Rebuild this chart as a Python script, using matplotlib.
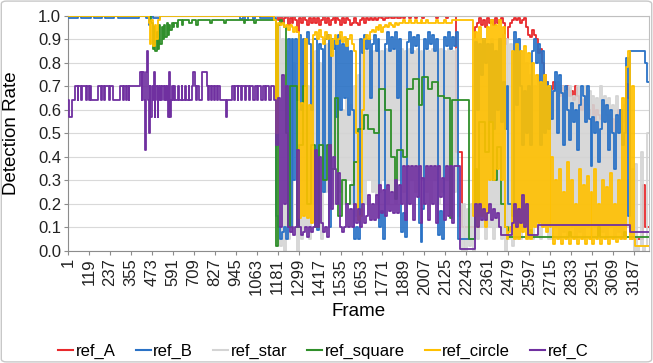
import numpy as np
import matplotlib
matplotlib.use("Agg")
import matplotlib.pyplot as plt
from matplotlib.patches import FancyBboxPatch
from matplotlib.lines import Line2D

plt.rcParams['font.family'] = ['Liberation Sans', 'DejaVu Sans']

N_FRAMES = 3271
LATE_START = 1171
LATE_STEP = 11

x_tick_labels = [1, 119, 237, 355, 473, 591, 709, 827, 945, 1063, 1181, 1299, 1417, 1535,
                 1653, 1771, 1889, 2007, 2125, 2243, 2361, 2479, 2597, 2715, 2833, 2951,
                 3069, 3187]
y_ticks = [0.0, 0.1, 0.2, 0.3, 0.4, 0.5, 0.6, 0.7, 0.8, 0.9, 1.0]

# ---------------- ref_A (red) ----------------
A_early_f = [1]
A_early_v = [1.0]
A_late = [1.0, 0.98, 1.0, 0.97, 0.99, 1.0, 0.96, 0.99, 0.97, 1.0,
          0.98, 0.93, 0.99, 0.97, 1.0, 0.98, 0.96, 0.99, 0.97, 0.99,
          0.97, 0.99, 0.96, 0.98, 1.0, 0.97, 0.99, 0.96, 0.98, 0.99,
          0.97, 0.99, 0.98, 0.96, 0.99, 0.97, 0.99, 0.98, 0.96, 0.97,
          0.99, 0.97, 0.96, 0.98, 0.99, 0.97, 0.99, 0.98, 0.99, 0.98,
          0.99, 0.98, 0.99, 1.0, 0.99, 0.98, 0.99, 0.99, 1.0, 0.99,
          0.99, 1.0, 0.99, 0.99, 1.0, 0.99, 1.0, 1.0, 0.99, 1.0,
          1.0, 0.99, 1.0, 1.0, 1.0, 0.99, 1.0, 1.0, 1.0, 1.0,
          1.0, 1.0, 0.99, 1.0, 1.0, 1.0, 1.0, 0.99, 1.0, 1.0,
          1.0, 1.0, 0.42, 0.42, 0.42, 0.1, 0.1, 0.1, 0.1, 0.1,
          0.1, 0.1, 0.95, 0.97, 0.99, 0.96, 0.98, 0.95, 0.99, 0.97,
          0.98, 0.96, 0.99, 0.97, 0.98, 0.99, 0.97, 0.88, 0.9, 0.95,
          0.97, 0.98, 0.99, 0.98, 0.99, 0.97, 0.98, 0.99, 0.95, 0.92,
          0.91, 0.94, 0.92, 0.9, 0.84, 0.86, 0.8, 0.75, 0.72, 0.7,
          0.7, 0.69, 0.72, 0.68, 0.7, 0.66, 0.7, 0.68, 0.65, 0.7,
          0.66, 0.68, 0.64, 0.7, 0.66, 0.62, 0.6, 0.64, 0.66, 0.62,
          0.6, 0.58, 0.62, 0.55, 0.6, 0.58, 0.56, 0.6, 0.62, 0.58,
          0.55, 0.58, 0.56, 0.5, 0.55, 0.6, 0.58, 0.55, 0.6, 0.71,
          0.65, 0.05, 0.05, 0.05, 0.05, 0.05, 0.05, 0.05, 0.28, 0.1, 0.1]

# ---------------- ref_B (blue) ----------------
B_early_f = [1, 60, 75, 130, 150, 190, 210, 260, 280, 400, 440, 455, 462, 480, 520,
             970, 985, 1000, 1015, 1040, 1055, 1080]
B_early_v = [0.99, 1.0, 0.99, 1.0, 0.99, 1.0, 0.99, 1.0, 0.99, 1.0, 0.99, 0.96, 1.0, 0.99, 1.0,
             0.985, 1.0, 0.98, 1.0, 0.985, 1.0, 0.99]
B_late = [0.15, 0.1, 0.05, 0.08, 0.1, 0.05, 0.9, 0.1, 0.9, 0.3,
          0.9, 0.64, 0.92, 0.6, 0.9, 0.7, 0.93, 0.88, 0.6, 0.9,
          0.9, 0.09, 0.88, 0.86, 0.25, 0.9, 0.92, 0.1, 0.9, 0.86,
          0.9, 0.57, 0.92, 0.6, 0.88, 0.65, 0.9, 0.58, 0.85, 0.6,
          0.05, 0.1, 0.05, 0.9, 0.84, 0.92, 0.86, 0.9, 0.65, 0.88,
          0.92, 0.85, 0.9, 0.1, 0.17, 0.05, 0.88, 0.93, 0.85, 0.91,
          0.86, 0.93, 0.65, 0.9, 0.08, 0.16, 0.06, 0.89, 0.93, 0.84,
          0.91, 0.87, 0.92, 0.12, 0.04, 0.18, 0.9, 0.86, 0.93, 0.88,
          0.92, 0.85, 0.9, 0.07, 0.17, 0.05, 0.91, 0.87, 0.93, 0.86,
          0.91, 0.87, 0.93, 0.05, 0.05, 0.05, 0.05, 0.05, 0.05, 0.05,
          0.05, 0.05, 0.89, 0.6, 0.88, 0.75, 0.9, 0.8, 0.88, 0.55,
          0.88, 0.52, 0.85, 0.6, 0.9, 0.55, 0.72, 0.52, 0.7, 0.2,
          0.2, 0.15, 0.93, 0.62, 0.9, 0.7, 0.45, 0.68, 0.5, 0.7,
          0.45, 0.85, 0.9, 0.8, 0.88, 0.45, 0.85, 0.5, 0.72, 0.52,
          0.7, 0.56, 0.68, 0.76, 0.5, 0.75, 0.67, 0.45, 0.7, 0.6,
          0.47, 0.63, 0.55, 0.6, 0.43, 0.62, 0.7, 0.66, 0.55, 0.7,
          0.56, 0.36, 0.57, 0.5, 0.55, 0.38, 0.52, 0.64, 0.55, 0.62,
          0.43, 0.6, 0.5, 0.35, 0.58, 0.5, 0.6, 0.45, 0.5, 0.82,
          0.15, 0.85, 0.85, 0.85, 0.85, 0.85, 0.85, 0.85, 0.85, 0.8, 0.72]

# ---------------- ref_star (grey) ----------------
S_early_f = [1]
S_early_v = [1.0]
S_late = [0.02, 0.95, 0.02, 0.9, 0.0, 0.85, 0.05, 0.9, 0.1, 0.8,
          0.7, 0.0, 0.6, 0.05, 0.85, 0.1, 0.7, 0.05, 0.8, 0.2,
          0.85, 0.2, 0.8, 0.05, 0.85, 0.25, 0.88, 0.3, 0.85, 0.2,
          0.85, 0.2, 0.65, 0.25, 0.6, 0.2, 0.65, 0.3, 0.62, 0.2,
          0.7, 0.15, 0.75, 0.25, 0.85, 0.2, 0.85, 0.3, 0.85, 0.25,
          0.85, 0.2, 0.86, 0.25, 0.85, 0.3, 0.86, 0.2, 0.85, 0.25,
          0.86, 0.2, 0.85, 0.3, 0.86, 0.25, 0.85, 0.2, 0.86, 0.3,
          0.85, 0.25, 0.86, 0.2, 0.85, 0.3, 0.86, 0.25, 0.85, 0.2,
          0.86, 0.3, 0.85, 0.2, 0.86, 0.25, 0.85, 0.3, 0.86, 0.2,
          0.85, 0.25, 0.86, 0.15, 0.2, 0.0, 0.2, 0.0, 0.18, 0.02,
          0.2, 0.0, 0.9, 0.05, 0.85, 0.1, 0.9, 0.05, 0.8, 0.1,
          0.9, 0.05, 0.85, 0.1, 0.9, 0.05, 0.92, 0.0, 0.9, 0.05,
          0.88, 0.02, 0.85, 0.05, 0.8, 0.05, 0.85, 0.1, 0.8, 0.05,
          0.75, 0.05, 0.7, 0.1, 0.75, 0.05, 0.72, 0.1, 0.7, 0.05,
          0.7, 0.05, 0.68, 0.1, 0.72, 0.05, 0.7, 0.08, 0.68, 0.05,
          0.7, 0.1, 0.66, 0.05, 0.7, 0.08, 0.65, 0.05, 0.7, 0.1,
          0.68, 0.05, 0.66, 0.1, 0.65, 0.05, 0.7, 0.08, 0.66, 0.05,
          0.65, 0.1, 0.62, 0.05, 0.66, 0.08, 0.6, 0.05, 0.62, 0.1,
          0.3, 0.05, 0.35, 0.0, 0.37, 0.0, 0.02, 0.42, 0.0, 0.02, 0.5]

# ---------------- ref_square (green) ----------------
Q_early_f = [1, 470, 478, 486, 492, 500, 506, 514, 520, 528, 534, 542, 548, 556, 562, 570,
             576, 584, 592, 600, 612, 620, 640, 650, 680, 700, 720, 730, 800, 810, 880, 890,
             990, 1000, 1050, 1060]
Q_early_v = [1.0, 0.97, 0.86, 0.95, 0.85, 0.93, 0.86, 0.96, 0.88, 0.95, 0.9, 0.96, 0.91, 0.97,
             0.92, 0.96, 0.94, 0.97, 0.95, 0.97, 0.95, 0.98, 0.96, 0.98, 0.97, 0.98, 0.96,
             0.98, 0.97, 0.98, 0.97, 0.98, 0.97, 0.98, 0.97, 0.98]
Q_late = [0.02, 0.96, 0.98, 0.97, 0.95, 0.5, 0.1, 0.7, 0.7, 0.7,
          0.7, 0.1, 0.45, 0.45, 0.7, 0.7, 0.2, 0.2, 0.45, 0.45,
          0.1, 0.1, 0.45, 0.45, 0.3, 0.3, 0.45, 0.45, 0.35, 0.35,
          0.65, 0.65, 0.15, 0.15, 0.3, 0.3, 0.2, 0.2, 0.28, 0.28,
          0.38, 0.38, 0.52, 0.52, 0.52, 0.58, 0.58, 0.52, 0.52, 0.52,
          0.5, 0.5, 0.5, 0.69, 0.69, 0.69, 0.6, 0.6, 0.6, 0.4,
          0.4, 0.22, 0.43, 0.43, 0.43, 0.4, 0.4, 0.69, 0.69, 0.69,
          0.73, 0.73, 0.73, 0.62, 0.62, 0.74, 0.74, 0.74, 0.69, 0.69,
          0.72, 0.72, 0.72, 0.66, 0.66, 0.66, 0.65, 0.65, 0.65, 0.14,
          0.64, 0.64, 0.64, 0.64, 0.64, 0.64, 0.64, 0.64, 0.64, 0.05,
          0.05, 0.05, 0.35, 0.15, 0.55, 0.55, 0.55, 0.42, 0.42, 0.55,
          0.55, 0.3, 0.3, 0.44, 0.44, 0.2, 0.2, 0.1, 0.1, 0.06,
          0.06, 0.06, 0.06, 0.06, 0.06, 0.06, 0.06, 0.06, 0.06, 0.06,
          0.09, 0.06, 0.06, 0.06, 0.06, 0.06, 0.06, 0.06, 0.06, 0.06,
          0.06, 0.06, 0.06, 0.06, 0.06, 0.06, 0.06, 0.06, 0.06, 0.06,
          0.08, 0.06, 0.06, 0.06, 0.06, 0.06, 0.06, 0.06, 0.06, 0.06,
          0.06, 0.06, 0.06, 0.06, 0.06, 0.1, 0.06, 0.06, 0.06, 0.06,
          0.06, 0.06, 0.06, 0.06, 0.06, 0.06, 0.06, 0.06, 0.08, 0.06,
          0.06, 0.06, 0.06, 0.06, 0.06, 0.06, 0.06, 0.06, 0.06, 0.06, 0.06]

# ---------------- ref_circle (yellow) ----------------
Y_early_f = [1, 455, 462, 470, 478, 490, 498, 506, 520, 1160]
Y_early_v = [1.0, 0.97, 0.88, 0.98, 0.87, 0.96, 0.9, 0.98, 1.0, 0.98]
Y_late = [0.5, 0.97, 0.96, 0.97, 0.95, 0.96, 0.94, 0.96, 0.95, 0.93,
          0.95, 0.93, 0.14, 0.63, 0.15, 0.9, 0.14, 0.62, 0.12, 0.92,
          0.93, 0.9, 0.94, 0.91, 0.88, 0.93, 0.9, 0.92, 0.83, 0.9,
          0.92, 0.88, 0.9, 0.93, 0.89, 0.91, 0.87, 0.9, 0.92, 0.88,
          0.85, 0.5, 0.13, 0.15, 0.6, 0.9, 0.92, 0.9, 0.93, 0.94,
          0.93, 0.95, 0.94, 0.96, 0.93, 0.95, 0.96, 0.95, 0.97, 0.96,
          0.95, 0.97, 0.96, 0.97, 0.97, 0.98, 0.97, 0.97, 0.98, 0.97,
          0.97, 0.98, 0.97, 0.97, 0.98, 0.97, 0.97, 0.98, 0.97, 0.97,
          0.97, 0.97, 0.98, 0.97, 0.97, 0.97, 0.98, 0.97, 0.97, 0.97,
          0.98, 0.98, 0.98, 0.98, 0.98, 0.98, 0.98, 0.98, 0.98, 0.98,
          0.98, 0.15, 0.93, 0.1, 0.95, 0.15, 0.9, 0.1, 0.95, 0.3,
          0.98, 0.3, 0.96, 0.35, 0.98, 0.3, 0.95, 0.1, 0.05, 0.08,
          0.1, 0.85, 0.05, 0.88, 0.05, 0.85, 0.08, 0.87, 0.05, 0.84,
          0.05, 0.8, 0.1, 0.75, 0.12, 0.72, 0.1, 0.75, 0.08, 0.7,
          0.1, 0.4, 0.03, 0.3, 0.05, 0.35, 0.03, 0.25, 0.05, 0.38,
          0.03, 0.3, 0.05, 0.2, 0.03, 0.35, 0.05, 0.28, 0.03, 0.32,
          0.05, 0.25, 0.03, 0.35, 0.05, 0.2, 0.03, 0.3, 0.05, 0.27,
          0.03, 0.33, 0.05, 0.2, 0.04, 0.3, 0.05, 0.65, 0.05, 0.78,
          0.85, 0.05, 0.7, 0.05, 0.02, 0.02, 0.02, 0.02, 0.02, 0.02, 0.02]

# ---------------- ref_C (purple) ----------------
C_early_f = [1, 4, 26, 39, 56, 60, 75, 79, 103, 107, 122, 126, 133, 171, 188, 192, 206, 210,
             234, 238, 255, 293, 310, 314, 328, 332, 343, 347, 405, 415, 419, 430, 434, 438,
             441, 447, 450, 455, 460, 464, 471, 480, 484, 488, 492, 500, 506, 510, 514, 520,
             526, 532, 540, 546, 552, 560, 566, 572, 576, 580, 584, 593, 600, 604, 620, 624,
             640, 644, 660, 664, 680, 684, 700, 706, 715, 722, 726, 740, 753, 781, 790, 796,
             806, 812, 824, 830, 842, 848, 856, 893, 898, 922, 935, 939, 955, 959, 975, 979,
             997, 1003, 1020, 1026, 1045, 1051, 1065, 1071, 1090, 1096, 1110, 1116, 1135, 1141,
             1160]
C_early_v = [0.64, 0.57, 0.64, 0.70, 0.64, 0.70, 0.64, 0.70, 0.64, 0.70, 0.64, 0.70, 0.64,
             0.70, 0.64, 0.70, 0.64, 0.70, 0.64, 0.70, 0.64, 0.70, 0.64, 0.70, 0.64, 0.70,
             0.64, 0.70, 0.76, 0.64, 0.76, 0.64, 0.43, 0.57, 0.76, 0.85, 0.64, 0.50, 0.70,
             0.57, 0.70, 0.64, 0.76, 0.57, 0.70, 0.64, 0.57, 0.70, 0.64, 0.70, 0.64, 0.70,
             0.64, 0.70, 0.64, 0.70, 0.57, 0.76, 0.57, 0.64, 0.70, 0.64, 0.70, 0.64, 0.70,
             0.64, 0.70, 0.64, 0.70, 0.64, 0.70, 0.64, 0.70, 0.76, 0.70, 0.64, 0.70, 0.64,
             0.76, 0.70, 0.64, 0.70, 0.64, 0.70, 0.64, 0.70, 0.64, 0.70, 0.64, 0.57, 0.64,
             0.70, 0.64, 0.70, 0.64, 0.70, 0.64, 0.70, 0.64, 0.70, 0.64, 0.70, 0.64, 0.70,
             0.64, 0.70, 0.64, 0.70, 0.64, 0.70, 0.64, 0.70, 0.64]
C_late = [0.45, 0.65, 0.1, 0.75, 0.2, 0.7, 0.1, 0.08, 0.1, 0.07,
          0.1, 0.43, 0.1, 0.07, 0.08, 0.1, 0.06, 0.1, 0.08, 0.1,
          0.43, 0.1, 0.4, 0.12, 0.08, 0.1, 0.06, 0.45, 0.18, 0.4,
          0.35, 0.2, 0.33, 0.1, 0.08, 0.1, 0.2, 0.1, 0.18, 0.1,
          0.2, 0.12, 0.18, 0.1, 0.2, 0.12, 0.15, 0.24, 0.13, 0.2,
          0.13, 0.24, 0.14, 0.28, 0.16, 0.26, 0.15, 0.28, 0.17, 0.25,
          0.16, 0.3, 0.16, 0.28, 0.2, 0.36, 0.13, 0.36, 0.2, 0.36,
          0.13, 0.36, 0.23, 0.36, 0.12, 0.31, 0.2, 0.36, 0.13, 0.36,
          0.2, 0.36, 0.12, 0.36, 0.23, 0.31, 0.13, 0.36, 0.15, 0.36,
          0.12, 0.36, 0.36, 0.36, 0.01, 0.01, 0.01, 0.01, 0.01, 0.01,
          0.01, 0.01, 0.2, 0.1, 0.2, 0.13, 0.18, 0.13, 0.16, 0.2,
          0.13, 0.18, 0.14, 0.16, 0.1, 0.07, 0.07, 0.07, 0.07, 0.07,
          0.07, 0.12, 0.2, 0.1, 0.18, 0.12, 0.24, 0.1, 0.2, 0.07,
          0.07, 0.07, 0.07, 0.07, 0.11, 0.11, 0.11, 0.11, 0.11, 0.11,
          0.11, 0.11, 0.11, 0.11, 0.11, 0.11, 0.11, 0.11, 0.11, 0.11,
          0.11, 0.11, 0.11, 0.11, 0.11, 0.11, 0.11, 0.11, 0.11, 0.11,
          0.11, 0.11, 0.11, 0.11, 0.11, 0.11, 0.11, 0.11, 0.11, 0.11,
          0.11, 0.11, 0.11, 0.11, 0.11, 0.11, 0.11, 0.11, 0.11, 0.11,
          0.11, 0.08, 0.08, 0.08, 0.08, 0.08, 0.08, 0.08, 0.08, 0.08, 0.08]

series = [
    ("ref_A", A_early_f, A_early_v, A_late, "#E8292C", 1),
    ("ref_B", B_early_f, B_early_v, B_late, "#2A72C6", 4),
    ("ref_star", S_early_f, S_early_v, S_late, "#D4D4D4", 2),
    ("ref_square", Q_early_f, Q_early_v, Q_late, "#2F8F2A", 5),
    ("ref_circle", Y_early_f, Y_early_v, Y_late, "#FFC000", 6),
    ("ref_C", C_early_f, C_early_v, C_late, "#7030A0", 7),
]


def build(early_f, early_v, late):
    f = list(early_f) + [LATE_START + LATE_STEP * i for i in range(len(late))]
    v = list(early_v) + list(late)
    f.append(N_FRAMES)
    v.append(v[-1])
    return np.array(f), np.array(v)


fig = plt.figure(figsize=(6.53, 3.63), dpi=100)
ax = fig.add_axes([68 / 653, 1 - 251 / 363, (649 - 68) / 653, (251 - 15.7) / 363])

handles = []
for name, ef, ev, late, col, z in series:
    f, v = build(ef, ev, late)
    ax.plot(f, v, drawstyle="steps-post", color=col, lw=1.3, zorder=z)
    handles.append(Line2D([0], [0], color=col, lw=1.5, label=name))

ax.set_xlim(1, N_FRAMES)
ax.set_ylim(0, 1.0)
ax.set_yticks(y_ticks)
ax.set_yticklabels([f"{t:.1f}" for t in y_ticks], fontsize=12)
ax.set_xticks(x_tick_labels)
ax.set_xticklabels([str(t) for t in x_tick_labels], rotation=90, fontsize=12)
ax.grid(axis="y", color="#D9D9D9", lw=0.8, zorder=0)
ax.set_axisbelow(True)
for s in ["left", "bottom"]:
    ax.spines[s].set_color("#8C8C8C")
for s in ["top", "right"]:
    ax.spines[s].set_color("#BFBFBF")
ax.tick_params(axis="both", colors="#8C8C8C", length=3, width=0.8, labelcolor="#222222", pad=2)

ax.set_ylabel("Detection Rate", fontsize=13.5)
ax.yaxis.set_label_coords(-0.083, 0.5)
ax.set_xlabel("Frame", fontsize=13.5)
ax.xaxis.set_label_coords(0.5, -0.222)

fig.legend(handles=handles, loc="center", bbox_to_anchor=(0.495, 1 - 351 / 363), ncol=6,
           frameon=False, fontsize=12, handlelength=0.9, handletextpad=0.15,
           columnspacing=1.2)

border = FancyBboxPatch((0.002, 0.003), 0.996, 0.994, boxstyle="round,pad=0,rounding_size=0.008",
                        transform=fig.transFigure, fill=False, ec="#C8C8C8", lw=1.0)
fig.patches.append(border)

fig.savefig("out.png", dpi=100)
